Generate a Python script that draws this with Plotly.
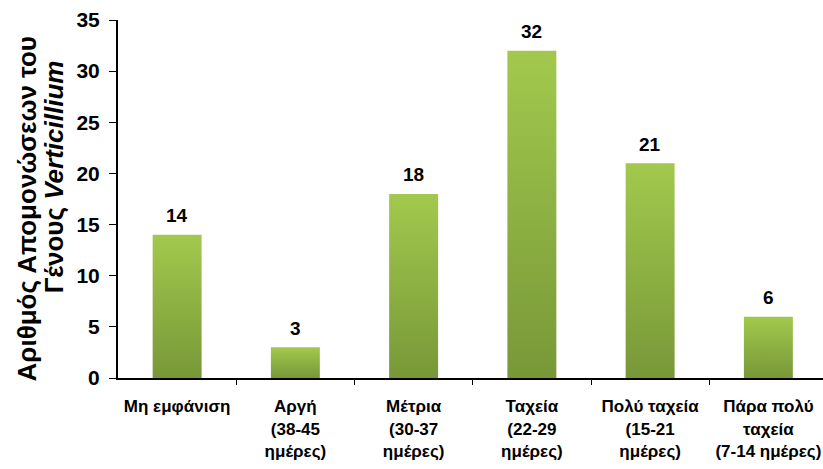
import plotly.graph_objects as go

categories = [
    "Μη εμφάνιση",
    "Αργή<br>(38-45<br>ημέρες)",
    "Μέτρια<br>(30-37<br>ημέρες)",
    "Ταχεία<br>(22-29<br>ημέρες)",
    "Πολύ ταχεία<br>(15-21<br>ημέρες)",
    "Πάρα πολύ<br>ταχεία<br>(7-14 ημέρες)",
]
counts = [14, 3, 18, 32, 21, 6]
y_ticks = [0, 5, 10, 15, 20, 25, 30, 35]
y_title_lines = ["Αριθμός Απομονώσεων του", "Γένους <i>Verticillium</i>"]

BAR_W = 0.414
TOP_COLOR = "#a2c94d"
BOTTOM_COLOR = "#789838"
FONT = "Liberation Sans, Arial, sans-serif"

fig = go.Figure()

# each bar is a filled rectangle with its own vertical gradient
for i, v in enumerate(counts):
    x0, x1 = i - BAR_W / 2, i + BAR_W / 2
    fig.add_trace(go.Scatter(
        x=[x0, x1, x1, x0, x0],
        y=[0, 0, v, v, 0],
        mode="lines",
        line=dict(width=0),
        fill="toself",
        fillgradient=dict(type="vertical",
                          colorscale=[[0, BOTTOM_COLOR], [1, TOP_COLOR]]),
        hoverinfo="skip",
        showlegend=False,
    ))

# value labels above the bars
for i, v in enumerate(counts):
    fig.add_annotation(
        x=i, y=v, text=f"<b>{v}</b>", showarrow=False,
        yanchor="middle", yshift=19,
        font=dict(family=FONT, size=19, color="black"),
    )

# two-line rotated y-axis title with tight line spacing
for text, xp, yp in zip(y_title_lines, [-0.129, -0.0895], [0.471, 0.563]):
    fig.add_annotation(
        xref="paper", yref="paper", x=xp, y=yp,
        text=f"<b>{text}</b>", textangle=-90, showarrow=False,
        xanchor="center", yanchor="middle",
        font=dict(family=FONT, size=26, color="black"),
    )

fig.update_layout(
    width=823, height=469,
    margin=dict(l=118, r=0, t=20, b=91),
    plot_bgcolor="white", paper_bgcolor="white",
    font=dict(family=FONT, color="black"),
    xaxis=dict(
        range=[-0.5, 5.462],
        tickmode="array",
        tickvals=list(range(len(categories))),
        ticktext=[f"<b>{c}</b>" for c in categories],
        tickfont=dict(size=17, family=FONT),
        ticks="",
        ticklabelstandoff=12,
        showline=True, linecolor="black", linewidth=2,
        showgrid=False, zeroline=False,
        minor=dict(tickmode="array", tickvals=[0.5, 1.5, 2.5, 3.5, 4.5],
                   ticks="outside", ticklen=5, tickcolor="black", tickwidth=1),
    ),
    yaxis=dict(
        range=[0, 35],
        tickmode="array",
        tickvals=y_ticks,
        ticktext=[f"<b>{t}</b>" for t in y_ticks],
        tickfont=dict(size=21, family=FONT),
        ticks="outside", ticklen=7, tickcolor="black", tickwidth=1,
        ticklabelstandoff=5,
        showline=True, linecolor="black", linewidth=2,
        showgrid=False, zeroline=False,
    ),
)

fig.write_html("out.html")
